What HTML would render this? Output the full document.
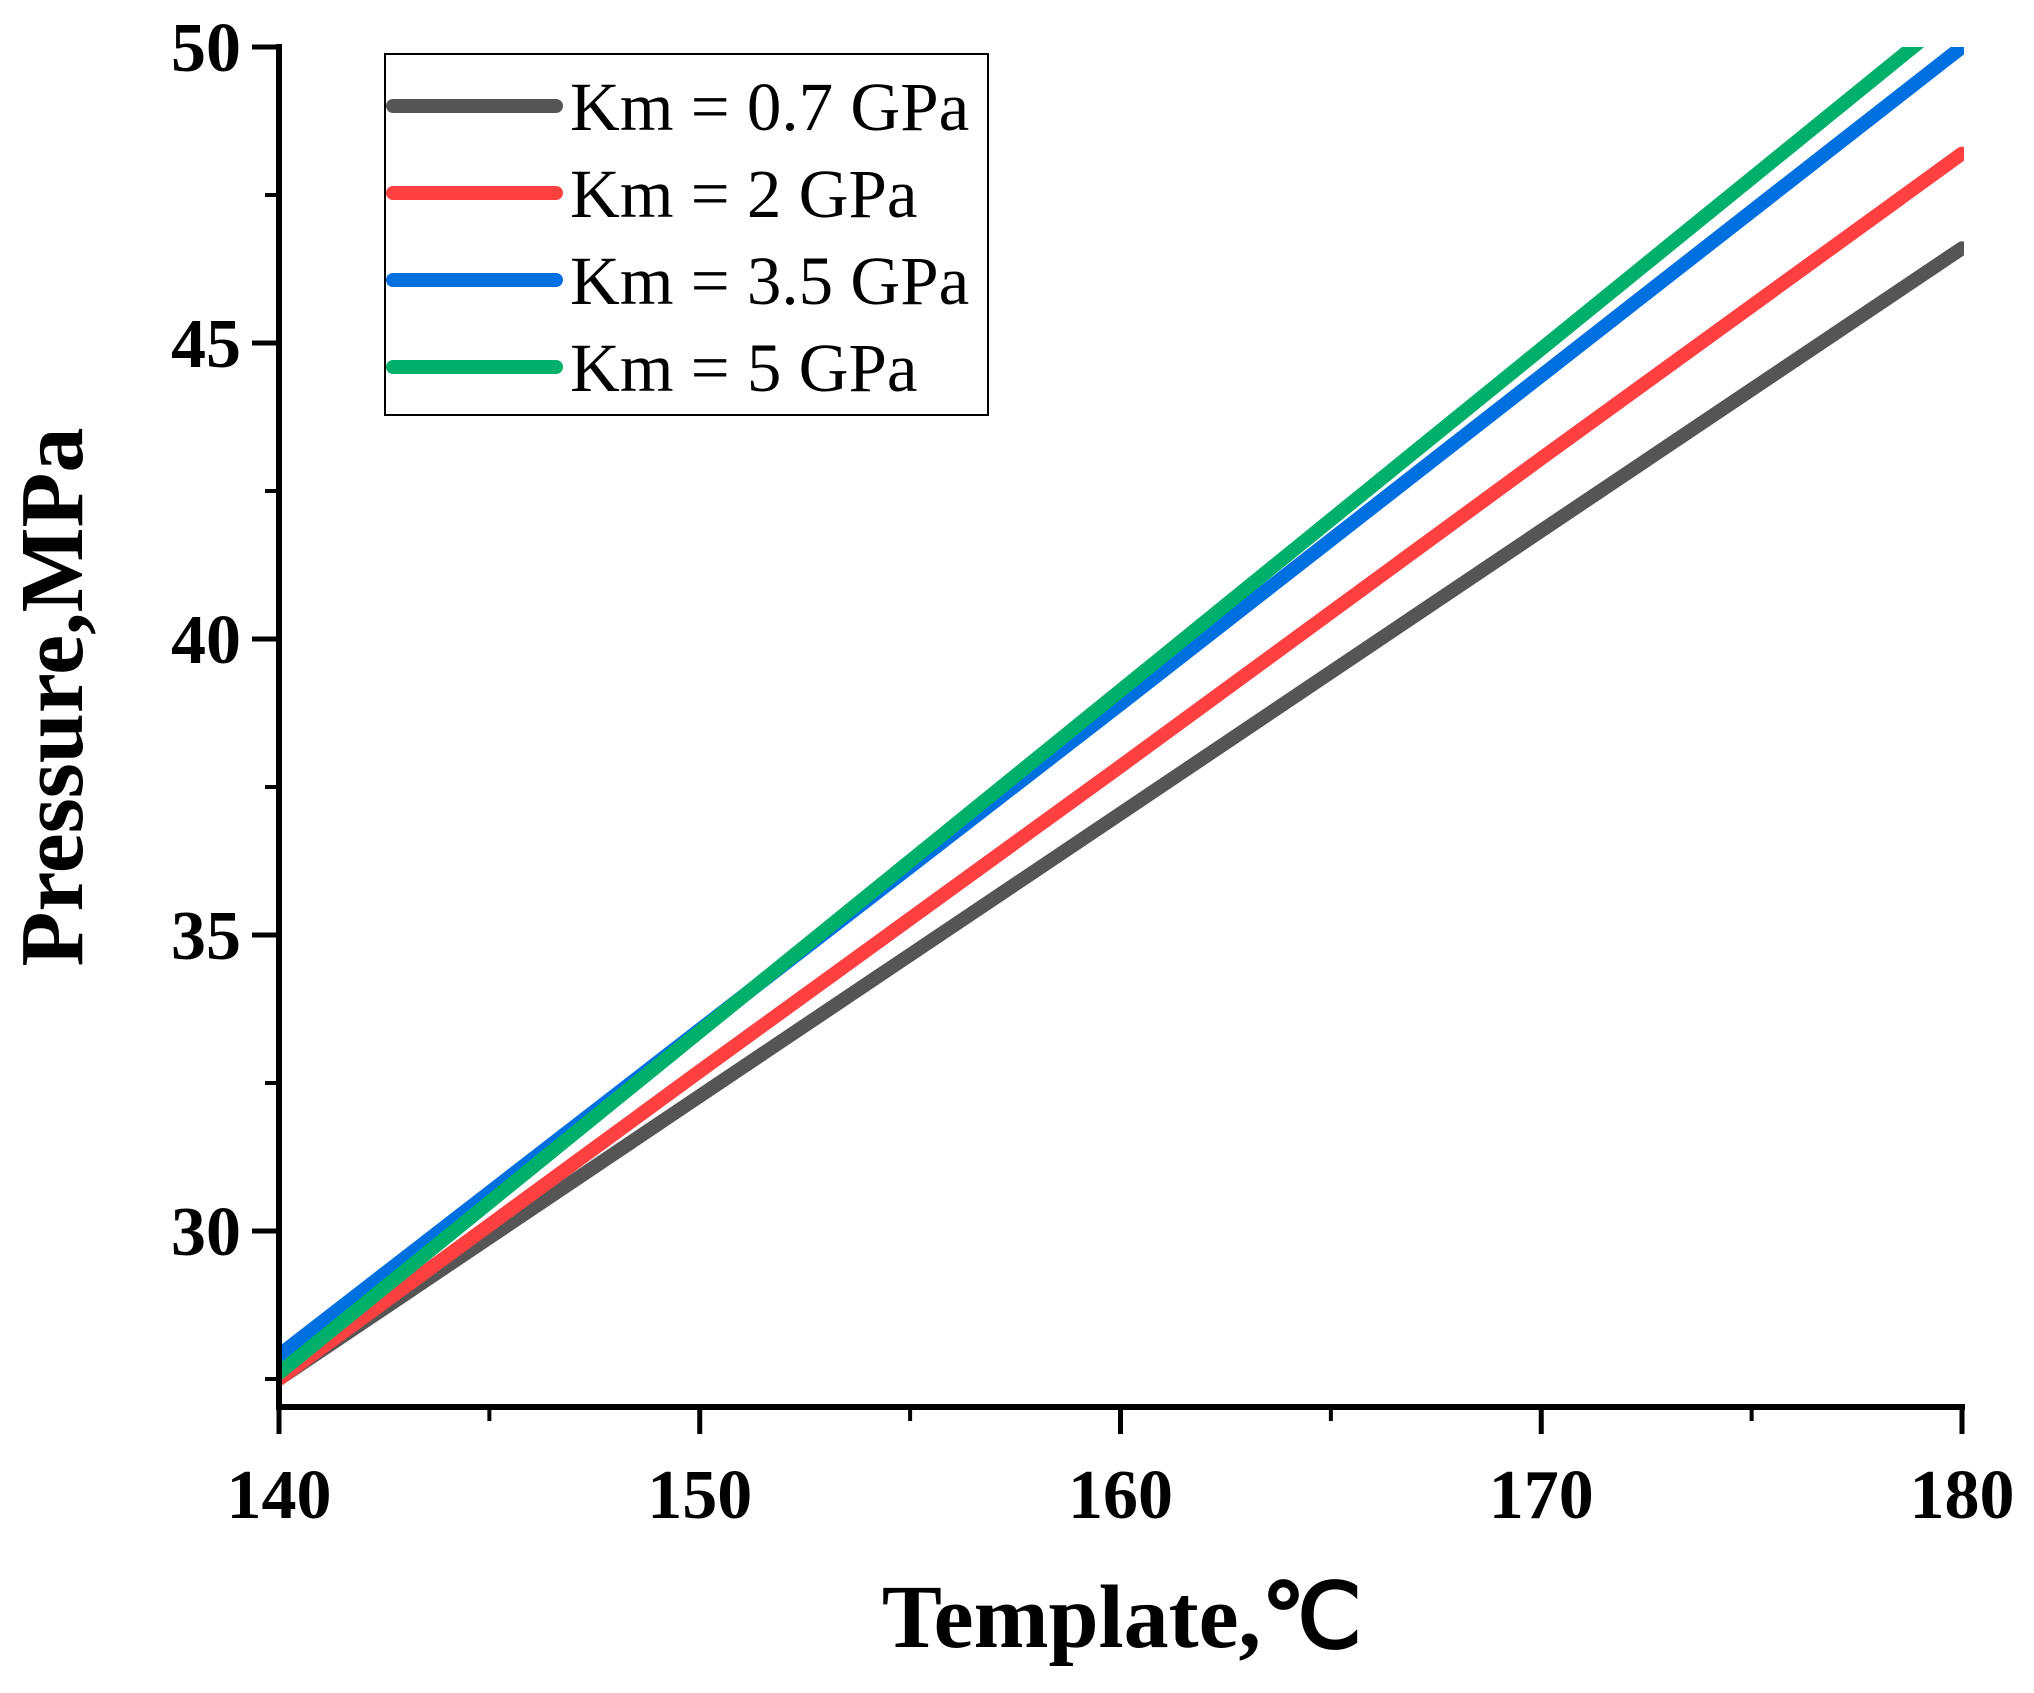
<!DOCTYPE html>
<html><head><meta charset="utf-8"><style>
html,body{margin:0;padding:0;background:#fff;}
svg{display:block;}
</style></head><body>
<svg id="chart" width="2034" height="1693" viewBox="0 0 2034 1693" xmlns="http://www.w3.org/2000/svg">
<defs><clipPath id="plotclip"><rect x="279" y="47" width="1685" height="1360"/></clipPath></defs>
<g id="series" clip-path="url(#plotclip)"></g>
<g id="axes"></g>
<g>
<rect x="385" y="54" width="603" height="361" fill="#fff" stroke="#000" stroke-width="2"/>
<g id="legend-items"></g>
</g>
<text x="1122" y="1647" text-anchor="middle" font-family="Liberation Serif, serif" font-weight="bold" font-size="90">Template,℃</text>
<text transform="translate(82,697) rotate(-90)" text-anchor="middle" font-family="Liberation Serif, serif" font-weight="bold" font-size="90">Pressure,MPa</text>
</svg>
<script>
const temps = [140, 150, 160, 170, 180];
const gray07 = [27.5, 32.28, 37.05, 41.83, 46.6];
const red2 = [27.5, 32.7, 37.85, 43.05, 48.2];
const blue35 = [27.9, 33.4, 38.9, 44.45, 50.0];
const green5 = [27.6, 33.37, 39.13, 44.9, 50.67];
const seriesNames = ["Km = 0.7 GPa", "Km = 2 GPa", "Km = 3.5 GPa", "Km = 5 GPa"];
const seriesColors = ["#555555", "#ff4040", "#0070e0", "#00b06a"];
const xTicks = [140, 150, 160, 170, 180];
const yTicks = [30, 35, 40, 45, 50];
const xMinorTicks = [145, 155, 165, 175];
const yMinorTicks = [27.5, 32.5, 37.5, 42.5, 47.5];

const NS = "http://www.w3.org/2000/svg";
const X0 = 279, X1 = 1962, Y30 = 1231, Y50 = 47, AXB = 1407;
function sx(t){ return X0 + (t - 140) / 40 * (X1 - X0); }
function sy(p){ return Y30 - (p - 30) / 20 * (Y30 - Y50); }
function mk(tag, attrs, parent){ const e = document.createElementNS(NS, tag); for (const k in attrs) e.setAttribute(k, attrs[k]); parent.appendChild(e); return e; }

const sg = document.getElementById("series");
const allSeries = [gray07, red2, blue35, green5];
const seriesKeys = ["line-km-0-7", "line-km-2", "line-km-3-5", "line-km-5"];
allSeries.forEach((vals, i) => {
  const d = vals.map((v, j) => (j ? "L" : "M") + sx(temps[j]).toFixed(1) + " " + sy(v).toFixed(1)).join(" ");
  const p = mk("path", {d: d, fill: "none", stroke: seriesColors[i], "stroke-width": 14, "stroke-linecap": "round", "stroke-linejoin": "round"}, sg);
  
  
});

const ax = document.getElementById("axes");
const yl = mk("line", {x1: X0, y1: 44, x2: X0, y2: AXB + 3, stroke: "#000", "stroke-width": 6}, ax);


const xl = mk("line", {x1: X0 - 3, y1: AXB, x2: X1 + 3, y2: AXB, stroke: "#000", "stroke-width": 6}, ax);



xTicks.forEach(t => {
  const l = mk("line", {x1: sx(t), y1: AXB, x2: sx(t), y2: AXB + 27, stroke: "#000", "stroke-width": 5}, ax);
  
  
  const tx = mk("text", {x: sx(t), y: 1518, "text-anchor": "middle", "font-family": "Liberation Serif, serif", "font-weight": "bold", "font-size": 70}, ax);
  tx.textContent = t;
  
  
});
xMinorTicks.forEach(t => {
  const l = mk("line", {x1: sx(t), y1: AXB, x2: sx(t), y2: AXB + 14, stroke: "#000", "stroke-width": 4}, ax);
  
  
});
yTicks.forEach(v => {
  const l = mk("line", {x1: X0 - 27, y1: sy(v), x2: X0, y2: sy(v), stroke: "#000", "stroke-width": 5}, ax);
  
  
  const tx = mk("text", {x: 241, y: sy(v) + 24, "text-anchor": "end", "font-family": "Liberation Serif, serif", "font-weight": "bold", "font-size": 70}, ax);
  tx.textContent = v;
  
  
});
yMinorTicks.forEach(v => {
  const l = mk("line", {x1: X0 - 14, y1: sy(v), x2: X0, y2: sy(v), stroke: "#000", "stroke-width": 4}, ax);
  
  
});

const lg = document.getElementById("legend-items");
seriesNames.forEach((n, i) => {
  const y = 106 + i * 87;
  const l = mk("line", {x1: 393, y1: y, x2: 556, y2: y, stroke: seriesColors[i], "stroke-width": 14, "stroke-linecap": "round"}, lg);
  
  
  const tx = mk("text", {x: 570, y: y + 24, "font-family": "Liberation Serif, serif", "font-size": 69}, lg);
  tx.textContent = n;
  
  
});
</script>
</body></html>
